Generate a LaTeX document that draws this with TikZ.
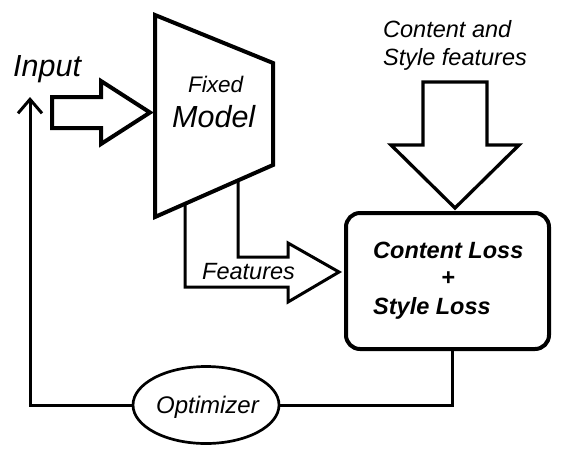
\documentclass[tikz,border=0pt]{standalone}
\usepackage{fontspec}
\setmainfont{Liberation Sans}
\usetikzlibrary{shapes.geometric,calc,arrows.meta}
\begin{document}
\begin{tikzpicture}[x=1pt,y=-1pt,
  txt/.style={inner sep=0pt, font=\itshape\fontsize{24}{28}\selectfont},
  small/.style={inner sep=0pt, font=\itshape\fontsize{23.5}{28}\selectfont},
  big/.style={inner sep=0pt, font=\itshape\fontsize{30.5}{34}\selectfont},
  boldtxt/.style={inner sep=0pt, font=\bfseries\itshape\fontsize{23.5}{26}\selectfont},
  blockarrow/.style={draw, line width=3pt, line join=miter, fill=white},
  thickline/.style={draw, line width=4pt, line join=miter},
  wire/.style={draw, line width=3pt}]
\useasboundingbox (0,0) rectangle (567,459);

% Fixed model (trapezoid)
\coordinate (tl) at (155,15);
\coordinate (tr) at (273,63);
\coordinate (br) at (273,165);
\coordinate (bl) at (155,217);
\coordinate (f1) at ($(bl)!{30/118}!(br)$);
\coordinate (f2) at ($(bl)!{83/118}!(br)$);

% Features block arrow
\draw[blockarrow, fill=none] (f1) -- (185,287) -- (288,287) -- (288,302) -- (339,272)
  -- (288,243) -- (288,257) -- (238,257) -- (f2);
\node[small, anchor=base west] (feat) at (202,279) {Features};

\draw[thickline] (tl) -- (tr) -- (br) -- (bl) -- cycle;
\node[small, font=\itshape\fontsize{22.5}{26}\selectfont, anchor=base west] (fixed) at (188,92) {Fixed};
\node[big, anchor=base west] (model) at (172,127) {Model};

% Input
\node[big, anchor=base west] (inp) at (13,76) {Input};
\draw[blockarrow, line width=4pt] (52,97) -- (101,97) -- (101,81) -- (150,112.5) -- (101,144)
  -- (101,128) -- (52,128) -- cycle;

% Content and style features
\node[small, anchor=base west] (cf1) at (383,37) {Content and};
\node[small, anchor=base west] (cf2) at (383,65) {Style features};
\draw[blockarrow, line width=3.3pt] (423,82) -- (487,82) -- (487,145) -- (519,145) -- (455,208)
  -- (391,145) -- (423,145) -- cycle;

% Loss box
\node[draw, line width=4pt, rounded corners=14pt, minimum width=203pt, minimum height=136pt,
  inner sep=0pt] (loss) at (447.5,281) {};
\node[boldtxt, anchor=base west] (cl) at (373,258) {Content Loss};
\node[boldtxt] (plus) at (448,279) {+};
\node[boldtxt, anchor=base west] (sl) at (373,314) {Style Loss};

% Optimizer
\node[draw, ellipse, line width=2.7pt, minimum width=146pt, minimum height=77pt, inner sep=0pt]
  (opt) at (206,405) {};
\node[txt, anchor=base] (optt) at (207.5,413) {Optimizer};

% Feedback loop
\coordinate (lossout) at ($(loss.south)+(4.5,0)$);
\coordinate (fb) at (30,97);
\draw[wire] (lossout) |- (opt.east);
\draw[wire, -{Straight Barb[length=14pt,width=24pt]}] (opt.west) -| (fb);
\end{tikzpicture}
\end{document}
